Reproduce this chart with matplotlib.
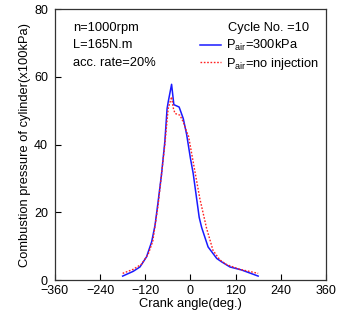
import matplotlib
matplotlib.use("Agg")
import matplotlib.pyplot as plt

plt.rcParams['font.family'] = ['Liberation Sans', 'DejaVu Sans']

# data
ang_300 = [-180, -152, -134, -116.5, -103, -94, -86, -77, -68, -62, -59, -50, -44,
           -30, -19, -10, 0, 7.4, 16.5, 23.4, 30, 47, 70, 83, 105, 136, 163, 180]
p_300 = [1.2, 2.6, 3.9, 6.9, 11.3, 16.2, 23, 31, 40.8, 50.6, 52.6, 57.8, 51.8,
         51.1, 47.7, 43, 36, 31.5, 24.1, 18.5, 15.5, 9.8, 6.4, 5.4, 3.9, 3.0, 1.9, 1.2]

ang_no = [-180, -152, -130, -112, -100, -86, -68, -59, -50, -46, -41, -28, -19,
          -10, -5, 7.4, 25, 43, 60, 78, 96, 131, 160, 180]
p_no = [2.0, 3.2, 4.7, 7.7, 11.5, 22, 40, 50.7, 54.1, 51, 49.2, 48.7, 46.7,
        43.8, 42.5, 34.9, 24.1, 15.3, 8.8, 6.0, 4.6, 3.2, 2.5, 2.0]

xticks = [-360, -240, -120, 0, 120, 240, 360]
yticks = [0, 20, 40, 60, 80]

fs = 9.3

fig = plt.figure(figsize=(3.37, 3.25), dpi=100)
ax = fig.add_axes([0.163, 0.138, 0.804, 0.834])

ax.plot(ang_300, p_300, color='#1a1aff', lw=1.1, label='P$_{\\mathregular{air}}$=300kPa')
ax.plot(ang_no, p_no, color='#ff2020', lw=1.0, ls=(0, (1.2, 1.2)),
        label='P$_{\\mathregular{air}}$=no injection')

ax.set_xlim(-360, 360)
ax.set_ylim(0, 80)
ax.set_xticks(xticks)
ax.set_yticks(yticks)
ax.tick_params(direction='in', length=4, width=0.8, labelsize=9)
ax.tick_params(axis='x', pad=3.5)
ax.tick_params(axis='y', pad=5)
for s in ax.spines.values():
    s.set_linewidth(0.9)
    s.set_color('#333333')

ax.set_xlabel('Crank angle(deg.)', fontsize=fs, labelpad=1)
ax.set_ylabel('Combustion pressure of cylinder(x100kPa)', fontsize=fs, labelpad=2)

ax.text(-311, 74.5, 'n=1000rpm', fontsize=fs, va='center')
ax.text(-311, 69.3, 'L=165N.m', fontsize=fs, va='center')
ax.text(-311, 64.1, 'acc. rate=20%', fontsize=fs, va='center')
ax.text(99, 74.5, 'Cycle No. =10', fontsize=fs, va='center')

leg = ax.legend(loc='upper left', bbox_to_anchor=(0.535, 0.893), frameon=False,
                fontsize=fs, handlelength=1.6, handletextpad=0.45,
                labelspacing=0.2, borderaxespad=0, borderpad=0)

fig.savefig('out.png', dpi=100)
